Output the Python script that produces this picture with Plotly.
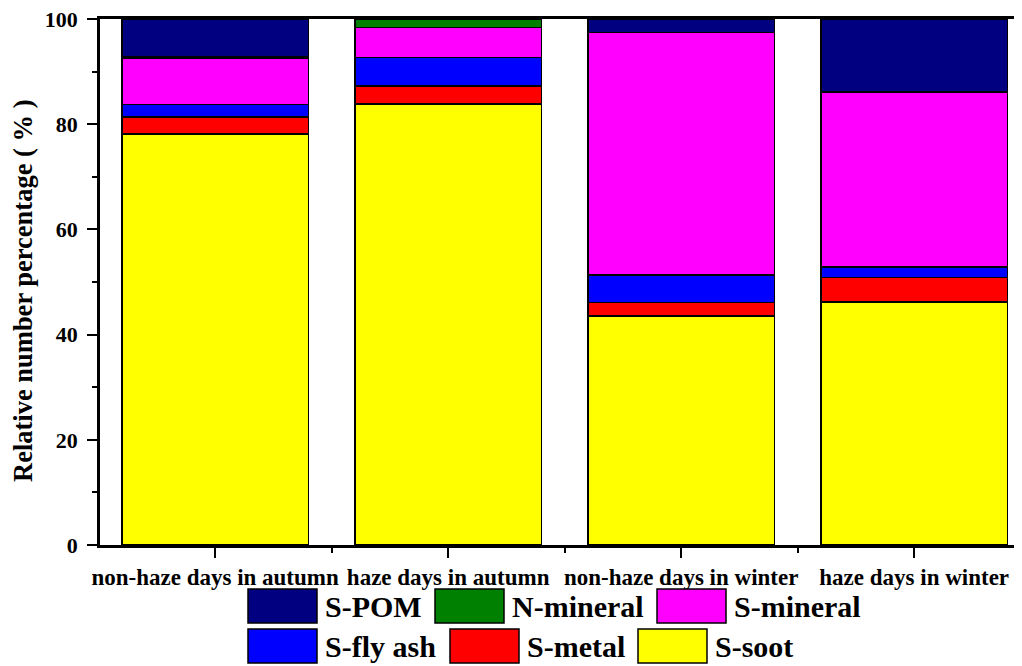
import plotly.graph_objects as go

categories = ["non-haze days in autumn", "haze days in autumn",
              "non-haze days in winter", "haze days in winter"]
series_names = ["S-soot", "S-metal", "S-fly ash", "S-mineral", "N-mineral", "S-POM"]
s_soot = [78.1, 83.8, 43.5, 46.2]
s_metal = [3.3, 3.5, 2.6, 4.7]
s_flyash = [2.3, 5.4, 5.2, 2.0]
s_mineral = [8.9, 5.7, 46.1, 33.2]
n_mineral = [0.3, 1.6, 0.0, 0.0]
s_pom = [7.1, 0.0, 2.6, 13.9]
series_values = [s_soot, s_metal, s_flyash, s_mineral, n_mineral, s_pom]
colors = ["#FFFF00", "#FF0000", "#0000FF", "#FF00FF", "#008000", "#000080"]
y_ticks = [0, 20, 40, 60, 80, 100]

W, H = 1022, 666
OFF = 8  # page body margin
# desired plot area in screen pixels: x 100..1022(+), y 19..545
L = 100 - OFF
T = 19 - OFF
B = H + OFF - 545
R = 0
FONT = "Liberation Serif, Times New Roman, serif"

fig = go.Figure()
xs = list(range(len(categories)))
for name, vals, col in zip(series_names, series_values, colors):
    fig.add_trace(go.Bar(
        x=xs, y=vals, name=name, width=0.8,
        marker=dict(color=col, line=dict(color="black", width=1.5)),
        showlegend=False,
    ))

pw = W - L - R
ph = H - T - B


def px(x):
    # screen px -> paper
    return (x - OFF - L) / pw


def py(y):
    return (H - B - (y - OFF)) / ph


# manual legend (large swatches like the original)
legend_layout = [
    ("S-POM", 248, 589), ("N-mineral", 435, 589), ("S-mineral", 657, 589),
    ("S-fly ash", 248, 629), ("S-metal", 450, 629), ("S-soot", 638, 629),
]
color_of = dict(zip(series_names, colors))
shapes = []
annotations = []
for name, x0, y0 in legend_layout:
    shapes.append(dict(type="rect", xref="paper", yref="paper",
                       x0=px(x0), x1=px(x0 + 69), y0=py(y0), y1=py(y0 + 34),
                       fillcolor=color_of[name], line=dict(color="black", width=1.5)))
    annotations.append(dict(xref="paper", yref="paper", x=px(x0 + 75), y=py(y0 + 17),
                            text="<b>%s</b>" % name, showarrow=False,
                            xanchor="left", yanchor="middle",
                            font=dict(family=FONT, size=30, color="black")))

annotations.append(dict(xref="paper", yref="paper", x=px(23), y=py(291),
                        text="<b>Relative number percentage ( % )</b>", showarrow=False,
                        textangle=-90, xanchor="center", yanchor="middle",
                        font=dict(family=FONT, size=26.5, color="black")))

fig.update_layout(
    width=W, height=H,
    margin=dict(l=L, r=R, t=T, b=B, autoexpand=False),
    paper_bgcolor="white", plot_bgcolor="white",
    barmode="stack", bargap=0.2,
    shapes=shapes, annotations=annotations,
    font=dict(family=FONT, color="black"),
    xaxis=dict(
        range=[-0.494, 3.497], tickmode="array", tickvals=xs,
        ticktext=["<b>%s</b>" % c for c in categories],
        tickfont=dict(family=FONT, size=23, color="black"),
        ticks="outside", ticklen=10, tickwidth=2, tickcolor="black",
        ticklabeloverflow="allow",
        minor=dict(tickmode="array", tickvals=[-0.5, 0.5, 1.5, 2.5], ticks="outside",
                   ticklen=5, tickwidth=2, tickcolor="black"),
        showline=True, linecolor="black", linewidth=2.5, mirror=True,
        showgrid=False, zeroline=False, automargin=False,
    ),
    yaxis=dict(
        range=[0, 100], tickmode="array", tickvals=y_ticks,
        ticktext=["<b>%d</b>" % v for v in y_ticks],
        tickfont=dict(family=FONT, size=22, color="black"),
        ticks="outside", ticklen=10, tickwidth=2, tickcolor="black",
        ticklabelstandoff=5, ticklabeloverflow="allow",
        minor=dict(tickmode="linear", tick0=10, dtick=20, ticks="outside",
                   ticklen=5, tickwidth=2, tickcolor="black"),
        showline=True, linecolor="black", linewidth=2.5, mirror=True,
        showgrid=False, zeroline=False, automargin=False,
    ),
)

fig.write_html("out.html")
